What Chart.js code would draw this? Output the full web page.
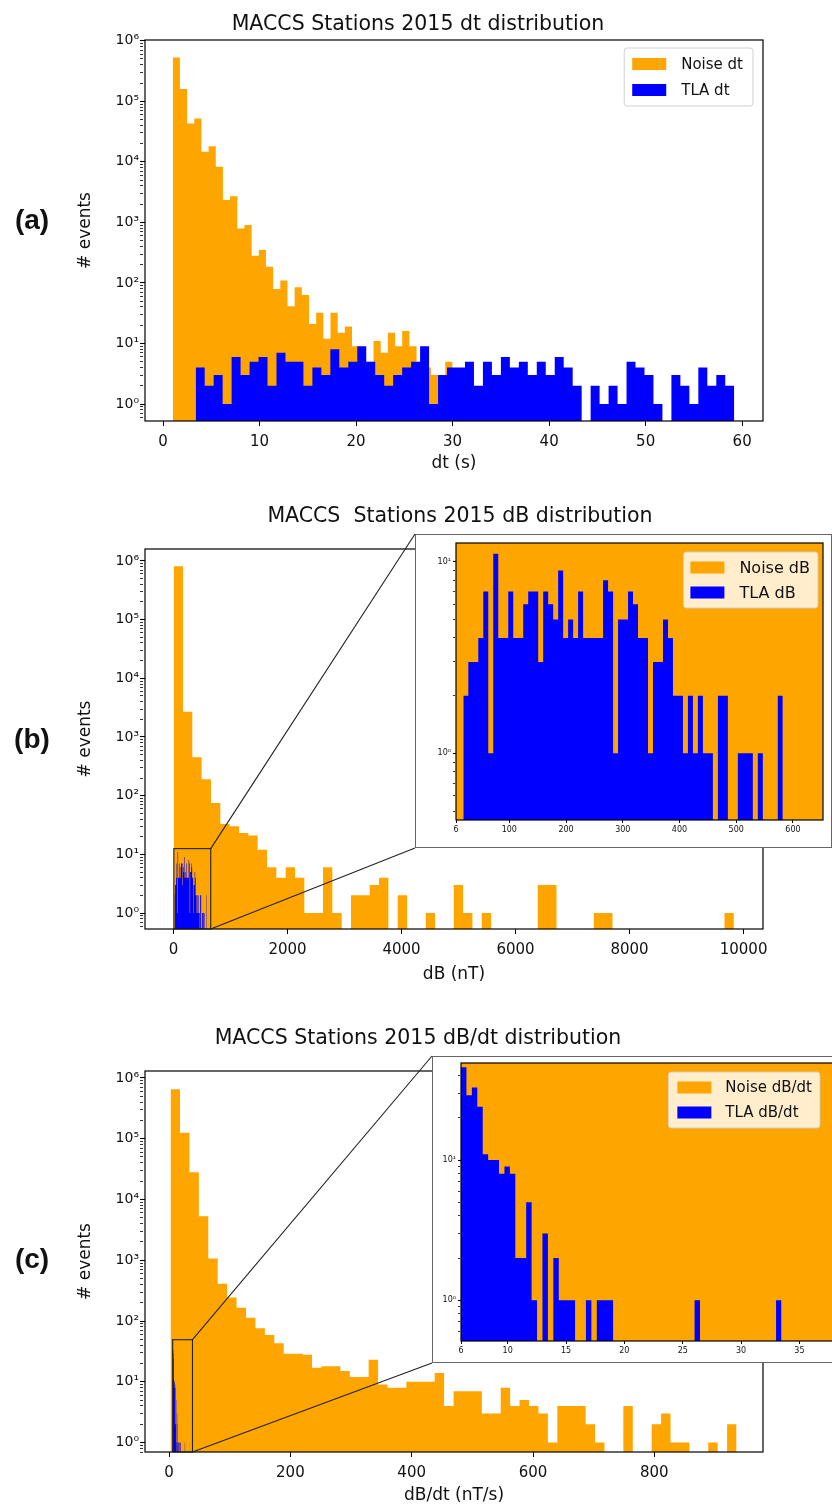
<!DOCTYPE html>
<html>
<head>
<meta charset="utf-8">
<title>MACCS Stations 2015 distributions</title>
<script src="https://cdn.jsdelivr.net/npm/chart.js@4.4.0/dist/chart.umd.min.js"></script>
<style>
    html, body { margin: 0; padding: 0; background: #fff; }
    body { position: relative; width: 832px; height: 1506px; overflow: hidden; font-family: "DejaVu Sans", sans-serif; }
    canvas { position: absolute; display: block; }
    .plot-title { position: absolute; z-index: 3; font-size: 20.5px; line-height: 20.5px; white-space: nowrap; transform: translateX(-50%); color: #111; }
    .panel-tag { position: absolute; z-index: 3; font-family: "Liberation Sans", Arial, sans-serif; font-weight: bold; font-size: 28px; line-height: 28px; transform: translate(-50%, -50%); color: #111; }
    .inset { position: absolute; z-index: 2; box-sizing: border-box; border: 1px solid #666; background: #fff; }
    .inset canvas { left: 0; top: 0; }
</style>
</head>
<body>

<div class="plot-title" style="left:418px; top:13px;">MACCS Stations 2015 dt distribution</div>
<div class="plot-title" style="left:460px; top:505px;">MACCS&nbsp; Stations 2015 dB distribution</div>
<div class="plot-title" style="left:418px; top:1027px;">MACCS Stations 2015 dB/dt distribution</div>

<div class="panel-tag" style="left:32px; top:220px;">(a)</div>
<div class="panel-tag" style="left:32px; top:739px;">(b)</div>
<div class="panel-tag" style="left:32px; top:1259px;">(c)</div>

<canvas id="dtChart" width="832" height="480" style="left:0; top:0;"></canvas>
<canvas id="dbChart" width="832" height="490" style="left:0; top:500px;"></canvas>
<canvas id="dbdtChart" width="832" height="466" style="left:0; top:1040px;"></canvas>

<div class="inset" id="dbFrame" style="left:415px; top:534px; width:417px; height:314px;">
    <canvas id="dbInset" width="415" height="312"></canvas>
</div>
<div class="inset" id="dbdtFrame" style="left:432px; top:1056px; width:420px; height:307px;">
    <canvas id="dbdtInset" width="418" height="305"></canvas>
</div>

<script>
// Histogram colours (matplotlib 'orange' / 'blue')
const ORANGE = '#ffa500';
const BLUE = '#0000ff';
const FONT = 'DejaVu Sans';

// ---- dt (s) ----
const dtNoiseStart = 1.0;
const dtNoiseWidth = 0.743;
const dtNoiseCounts = [
    530000, 160000, 43000, 52000, 14700, 18000, 8300, 2350, 2700, 790,
    900, 280, 350, 185, 79, 110, 41, 85, 63, 21,
    32, 12, 32, 15, 19, 9, 5, 5, 11, 7,
    15, 9, 16, 9, 5, 4, 3, 1, 5, 0,
    0, 4
];
const dtTlaStart = 3.38;
const dtTlaWidth = 0.93;
const dtTlaCounts = [
    4, 2, 3, 1, 6, 3, 5, 6, 2, 7,
    5, 5, 2, 4, 3, 8, 4, 5, 9, 5,
    3, 2, 3, 4, 5, 9, 1, 3, 4, 4,
    5, 2, 5, 3, 6, 4, 5, 3, 5, 3,
    6, 4, 2, 0, 2, 1, 2, 1, 5, 4,
    3, 1, 0, 3, 2, 1, 4, 2, 3, 2
];
const dtTicks = [0, 10, 20, 30, 40, 50, 60];

// ---- dB (nT) ----
const dbNoiseStart = 2;
const dbNoiseWidth = 163.8;
const dbNoiseCounts = [
    810000, 2700, 450, 190, 75, 33, 30, 23, 21, 12,
    6, 4, 6, 4, 1, 1, 6, 1, 0, 2,
    2, 3, 4, 0, 2, 0, 0, 1, 0, 0,
    3, 1, 0, 1, 0, 0, 0, 0, 0, 3,
    3, 0, 0, 0, 0, 1, 1, 0, 0, 0,
    0, 0, 0, 0, 0, 0, 0, 0, 0, 1
];
const dbTlaStart = 18.9;
const dbTlaWidth = 8.8;
const dbTlaCounts = [
    2, 3, 3, 4, 7, 1, 11, 4, 4, 7,
    4, 4, 6, 7, 7, 3, 7, 6, 5, 9,
    4, 5, 4, 7, 4, 4, 4, 4, 8, 7,
    1, 5, 5, 7, 6, 4, 4, 1, 3, 3,
    5, 4, 2, 2, 1, 2, 1, 2, 1, 1,
    0, 2, 2, 0, 0, 1, 1, 1, 0, 1,
    0, 0, 0, 2
];
const dbTicks = [0, 2000, 4000, 6000, 8000, 10000];
const dbInsetTicks = [6, 100, 200, 300, 400, 500, 600];

// ---- dB/dt (nT/s) ----
const dbdtNoiseStart = 2.5;
const dbdtNoiseWidth = 15.55;
const dbdtNoiseCounts = [
    650000, 125000, 28000, 5300, 1070, 410, 245, 165, 113, 76,
    59, 43, 29, 29, 28, 17, 18, 18, 15, 12,
    12, 23, 9, 8, 8, 10, 10, 10, 14, 4,
    7, 7, 7, 3, 3, 8, 4, 5, 4, 3,
    1, 4, 4, 4, 2, 1, 0, 0, 4, 0,
    0, 2, 3, 1, 1, 0, 0, 1, 0, 2
];
const dbdtTlaStart = 6.0;
const dbdtTlaWidth = 0.4655;
const dbdtTlaCounts = [
    46, 29, 33, 24, 11, 10, 10, 8, 9, 8,
    2, 2, 5, 1, 0, 3, 0, 2, 1, 1,
    1, 0, 0, 1, 0, 1, 1, 1, 0, 0,
    0, 0, 0, 0, 0, 0, 0, 0, 0, 0,
    0, 0, 0, 1, 0, 0, 0, 0, 0, 0,
    0, 0, 0, 0, 0, 0, 0, 0, 1
];
const dbdtTicks = [0, 200, 400, 600, 800];
const dbdtInsetTicks = [6, 10, 15, 20, 25, 30, 35];

// Empty bins are pushed far below the visible log range
const FLOOR = 1e-3;

// Step outline of a histogram: one point per left bin edge, closed at both ends
function histPoints(start, width, counts) {
    const pts = [{ x: start, y: FLOOR }];
    counts.forEach((c, i) => pts.push({ x: start + i * width, y: c > 0 ? c : FLOOR }));
    pts.push({ x: start + counts.length * width, y: FLOOR });
    return pts;
}

function histDataset(label, color, start, width, counts, order) {
    return {
        label: label,
        data: histPoints(start, width, counts),
        backgroundColor: color,
        borderColor: 'rgba(0,0,0,0)',
        borderWidth: 1,
        fill: 'start',
        stepped: true,
        pointRadius: 0,
        pointHoverRadius: 0,
        order: order
    };
}

// Power-of-ten labels with superscript exponents
const SUP = { '-': '⁻', '0': '⁰', '1': '¹', '2': '²', '3': '³', '4': '⁴', '5': '⁵', '6': '⁶', '7': '⁷', '8': '⁸', '9': '⁹' };
function powLabel(v) {
    const e = Math.round(Math.log10(v));
    if (Math.abs(v / Math.pow(10, e) - 1) > 1e-6) return '';
    return '10' + String(e).split('').map(ch => SUP[ch]).join('');
}

// Major ticks at decades, minor ticks at 2..9 of each decade
function logTicks(axis) {
    const out = [];
    const lo = Math.floor(Math.log10(axis.min));
    const hi = Math.ceil(Math.log10(axis.max));
    for (let e = lo; e <= hi; e++) {
        for (let d = 1; d <= 9; d++) {
            const v = d * Math.pow(10, e);
            if (v >= axis.min && v <= axis.max) out.push({ value: v, major: d === 1 });
        }
    }
    axis.ticks = out;
}

function xAxis(min, max, tickValues, o) {
    return {
        type: 'linear',
        min: min,
        max: max,
        afterBuildTicks: axis => { axis.ticks = tickValues.map(v => ({ value: v })); },
        afterFit: s => { s.height = o.height; s.paddingLeft = 0; s.paddingRight = 0; },
        ticks: {
            font: { family: FONT, size: o.tickSize },
            color: '#111',
            padding: o.tickPad,
            maxRotation: 0,
            autoSkip: false,
            callback: v => String(v)
        },
        grid: { display: true, drawOnChartArea: false, drawTicks: true, tickLength: o.tickLen, tickColor: '#000', tickWidth: 1 },
        border: { display: false },
        title: o.title
            ? { display: true, text: o.title, font: { family: FONT, size: 17 }, color: '#111', padding: { top: 0, bottom: 0 } }
            : { display: false }
    };
}

function yAxis(min, max, o) {
    return {
        type: 'logarithmic',
        min: min,
        max: max,
        afterBuildTicks: logTicks,
        afterFit: s => { s.width = o.width; s.paddingTop = 0; s.paddingBottom = 0; },
        ticks: {
            font: { family: FONT, size: o.tickSize },
            color: '#111',
            padding: o.tickPad,
            autoSkip: false,
            callback: v => powLabel(v)
        },
        grid: {
            display: true,
            drawOnChartArea: false,
            drawTicks: true,
            tickLength: o.tickLen,
            tickColor: '#000',
            tickWidth: ctx => (ctx.tick && ctx.tick.major) ? 1.1 : 0.8,
            tickBorderDash: ctx => (ctx.tick && ctx.tick.major) ? [] : [o.minorLen, 20]
        },
        border: { display: false },
        title: o.title
            ? { display: true, text: o.title, font: { family: FONT, size: 17 }, color: '#111', padding: { top: 5, bottom: 0 } }
            : { display: false }
    };
}

// Four-sided axes box
const axesFrame = {
    id: 'axesFrame',
    afterDraw(chart) {
        const { ctx, chartArea: a } = chart;
        ctx.save();
        ctx.strokeStyle = '#000';
        ctx.lineWidth = 1.2;
        ctx.strokeRect(a.left, a.top, a.right - a.left, a.bottom - a.top);
        ctx.restore();
    }
};

// Legend box anchored to the upper right of the plot area
const legendBox = {
    id: 'legendBox',
    afterDraw(chart, args, o) {
        if (!o || !o.display) return;
        const { ctx, chartArea: a } = chart;
        const items = chart.data.datasets.map(d => ({ text: d.label, color: d.backgroundColor }));
        ctx.save();
        ctx.font = o.size + 'px "' + FONT + '"';
        const tw = Math.max(...items.map(it => ctx.measureText(it.text).width));
        const w = o.padX + o.patchW + o.gap + tw + o.padR;
        const h = o.padY * 2 + o.rowH * items.length;
        const x = a.right - o.right - w;
        const y = a.top + o.top;
        const r = 3;
        ctx.beginPath();
        ctx.moveTo(x + r, y);
        ctx.arcTo(x + w, y, x + w, y + h, r);
        ctx.arcTo(x + w, y + h, x, y + h, r);
        ctx.arcTo(x, y + h, x, y, r);
        ctx.arcTo(x, y, x + w, y, r);
        ctx.closePath();
        ctx.fillStyle = 'rgba(255,255,255,0.8)';
        ctx.fill();
        ctx.strokeStyle = 'rgba(204,204,204,0.9)';
        ctx.lineWidth = 1;
        ctx.stroke();
        ctx.textBaseline = 'middle';
        items.forEach((it, i) => {
            const cy = y + o.padY + o.rowH * (i + 0.5);
            ctx.fillStyle = it.color;
            ctx.fillRect(x + o.padX, cy - o.patchH / 2, o.patchW, o.patchH);
            ctx.fillStyle = '#111';
            ctx.fillText(it.text, x + o.padX + o.patchW + o.gap, cy + 1);
        });
        ctx.restore();
    }
};

// Zoom box on the main axes plus the two connectors to the inset frame
const insetZoom = {
    id: 'insetZoom',
    afterDraw(chart, args, o) {
        if (!o || !o.frame) return;
        const { ctx, chartArea: a } = chart;
        const xs = chart.scales.x, ys = chart.scales.y;
        const x0 = xs.getPixelForValue(o.xMin);
        const x1 = xs.getPixelForValue(o.xMax);
        const yTop = ys.getPixelForValue(o.yMax);
        const yBot = Math.min(ys.getPixelForValue(o.yMin), a.bottom);
        const fr = document.getElementById(o.frame).getBoundingClientRect();
        const cv = chart.canvas.getBoundingClientRect();
        const fx = fr.left - cv.left;
        const fTop = fr.top - cv.top;
        const fBot = fr.bottom - cv.top;
        ctx.save();
        ctx.strokeStyle = '#222';
        ctx.lineWidth = 1.1;
        ctx.strokeRect(x0, yTop, x1 - x0, yBot - yTop);
        ctx.beginPath();
        ctx.moveTo(x1, yTop);
        ctx.lineTo(fx, fTop);
        ctx.moveTo(x1, yBot);
        ctx.lineTo(fx, fBot);
        ctx.stroke();
        ctx.restore();
    }
};

function chartOptions(cfg) {
    return {
        responsive: false,
        animation: false,
        devicePixelRatio: 1,
        events: [],
        layout: { padding: cfg.padding },
        scales: { x: cfg.x, y: cfg.y },
        plugins: {
            legend: { display: false },
            tooltip: { enabled: false },
            legendBox: cfg.legend || { display: false },
            insetZoom: cfg.zoom || {}
        }
    };
}

function makeChart(id, datasets, cfg) {
    return new Chart(document.getElementById(id), {
        type: 'line',
        data: { datasets: datasets },
        options: chartOptions(cfg),
        plugins: [axesFrame, legendBox, insetZoom]
    });
}

const mainX = { tickSize: 15, tickPad: 7, tickLen: 5 };
const mainY = { width: 75, tickSize: 14, tickPad: 1, tickLen: 5, minorLen: 3, title: '# events' };
const insetX = { height: 25, tickSize: 8, tickPad: 2, tickLen: 3 };
const insetLegend = { display: true, top: 9, padY: 3, padX: 7, padR: 8, patchW: 34, patchH: 12, gap: 15, rowH: 25 };

// Inset axis limits, also used for the zoom box on the main axes
const dbInsetX = [6, 653];
const dbInsetY = [0.449, 12.52];
const dbdtInsetX = [6, 38.65];
const dbdtInsetY = [0.512, 49.3];

// (a) dt
makeChart('dtChart', [
    histDataset('Noise dt', ORANGE, dtNoiseStart, dtNoiseWidth, dtNoiseCounts, 2),
    histDataset('TLA dt', BLUE, dtTlaStart, dtTlaWidth, dtTlaCounts, 1)
], {
    padding: { left: 70, top: 40, right: 69, bottom: 6 },
    x: xAxis(-1.875, 62.16, dtTicks, Object.assign({ height: 53, title: 'dt (s)' }, mainX)),
    y: yAxis(0.524, 1.027e6, mainY),
    legend: { display: true, right: 10, top: 8, size: 15, padY: 3, padX: 8, padR: 10, patchW: 34, patchH: 12, gap: 15, rowH: 26 }
});

// (b) dB
makeChart('dbChart', [
    histDataset('Noise dB', ORANGE, dbNoiseStart, dbNoiseWidth, dbNoiseCounts, 2),
    histDataset('TLA dB', BLUE, dbTlaStart, dbTlaWidth, dbTlaCounts, 1)
], {
    padding: { left: 70, top: 49, right: 69, bottom: 5 },
    x: xAxis(-500, 10341, dbTicks, Object.assign({ height: 56, title: 'dB (nT)' }, mainX)),
    y: yAxis(0.534, 1.6e6, mainY),
    zoom: { frame: 'dbFrame', xMin: dbInsetX[0], xMax: dbInsetX[1], yMin: dbInsetY[0], yMax: dbInsetY[1] }
});

makeChart('dbInset', [
    histDataset('Noise dB', ORANGE, dbNoiseStart, dbNoiseWidth, dbNoiseCounts, 2),
    histDataset('TLA dB', BLUE, dbTlaStart, dbTlaWidth, dbTlaCounts, 1)
], {
    padding: { left: 3, top: 8, right: 8, bottom: 2 },
    x: xAxis(dbInsetX[0], dbInsetX[1], dbInsetTicks, insetX),
    y: yAxis(dbInsetY[0], dbInsetY[1], { width: 37, tickSize: 8, tickPad: 2, tickLen: 3, minorLen: 2 }),
    legend: Object.assign({ right: 5, size: 16 }, insetLegend)
});

// (c) dB/dt
makeChart('dbdtChart', [
    histDataset('Noise dB/dt', ORANGE, dbdtNoiseStart, dbdtNoiseWidth, dbdtNoiseCounts, 2),
    histDataset('TLA dB/dt', BLUE, dbdtTlaStart, dbdtTlaWidth, dbdtTlaCounts, 1)
], {
    padding: { left: 70, top: 31, right: 69, bottom: 0 },
    x: xAxis(-39.6, 979.1, dbdtTicks, Object.assign({ height: 54, title: 'dB/dt (nT/s)' }, mainX)),
    y: yAxis(0.73, 1.3e6, mainY),
    zoom: { frame: 'dbdtFrame', xMin: dbdtInsetX[0], xMax: dbdtInsetX[1], yMin: dbdtInsetY[0], yMax: dbdtInsetY[1] }
});

makeChart('dbdtInset', [
    histDataset('Noise dB/dt', ORANGE, dbdtNoiseStart, dbdtNoiseWidth, dbdtNoiseCounts, 2),
    histDataset('TLA dB/dt', BLUE, dbdtTlaStart, dbdtTlaWidth, dbdtTlaCounts, 1)
], {
    padding: { left: 2, top: 6, right: 9, bottom: 2 },
    x: xAxis(dbdtInsetX[0], dbdtInsetX[1], dbdtInsetTicks, Object.assign({}, insetX, { height: 19 })),
    y: yAxis(dbdtInsetY[0], dbdtInsetY[1], { width: 26, tickSize: 8, tickPad: 2, tickLen: 3, minorLen: 2 }),
    legend: Object.assign({}, insetLegend, { right: 22, size: 15, padX: 9, gap: 14 })
});
</script>
</body>
</html>
